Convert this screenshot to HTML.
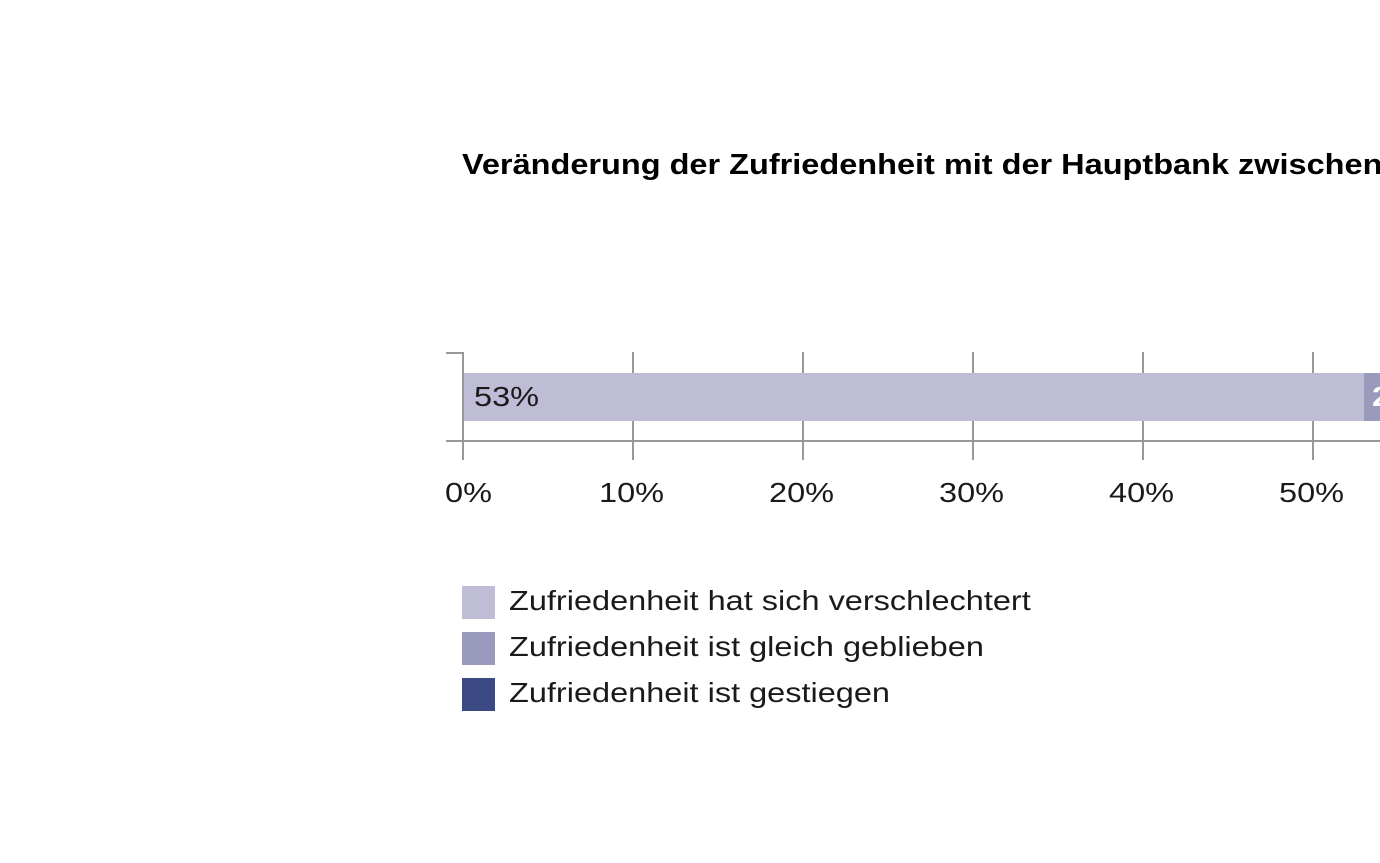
<!DOCTYPE html>
<html><head><meta charset="utf-8"><style>
body{margin:0;width:1380px;height:863px;overflow:hidden;background:#fff;font-family:"Liberation Sans",sans-serif;position:relative}
.a{position:absolute}
.t{font-size:28px;color:#1a1a1a;white-space:nowrap;transform-origin:0 0;transform:scaleX(1.16)}
.k{background:#999}
</style></head><body>
<div class="a" style="left:462px;top:149px;font-size:29px;font-weight:bold;white-space:nowrap;color:#000;transform-origin:0 0;transform:scaleX(1.12)">Veränderung der Zufriedenheit mit der Hauptbank zwischen</div>
<div class="a k" style="left:446px;top:352px;width:17px;height:2px"></div>
<div class="a k" style="left:462px;top:352px;width:2px;height:108px"></div>
<div class="a k" style="left:446px;top:440px;width:934px;height:2px"></div>
<div class="a k" style="left:632px;top:352px;width:2px;height:108px"></div>
<div class="a k" style="left:802px;top:352px;width:2px;height:108px"></div>
<div class="a k" style="left:972px;top:352px;width:2px;height:108px"></div>
<div class="a k" style="left:1142px;top:352px;width:2px;height:108px"></div>
<div class="a k" style="left:1312px;top:352px;width:2px;height:108px"></div>
<div class="a" style="left:464px;top:373px;width:900px;height:48px;background:#bebdd5"></div>
<div class="a" style="left:1364px;top:373px;width:16px;height:48px;background:#9a9abd"></div>
<div class="a t" style="left:474px;top:381px;">53%</div>
<div class="a t" style="left:1372px;top:381px;color:#fff;font-weight:bold">2</div>
<div class="a t" style="left:445px;top:477px">0%</div>
<div class="a t" style="left:599px;top:477px">10%</div>
<div class="a t" style="left:769px;top:477px">20%</div>
<div class="a t" style="left:939px;top:477px">30%</div>
<div class="a t" style="left:1109px;top:477px">40%</div>
<div class="a t" style="left:1279px;top:477px">50%</div>
<div class="a" style="left:462px;top:586px;width:33px;height:33px;background:#bebdd5"></div>
<div class="a" style="left:462px;top:632px;width:33px;height:33px;background:#9a9abd"></div>
<div class="a" style="left:462px;top:678px;width:33px;height:33px;background:#3b4a82"></div>
<div class="a t" style="left:509px;top:585px">Zufriedenheit hat sich verschlechtert</div>
<div class="a t" style="left:509px;top:631px">Zufriedenheit ist gleich geblieben</div>
<div class="a t" style="left:509px;top:677px">Zufriedenheit ist gestiegen</div>
</body></html>
